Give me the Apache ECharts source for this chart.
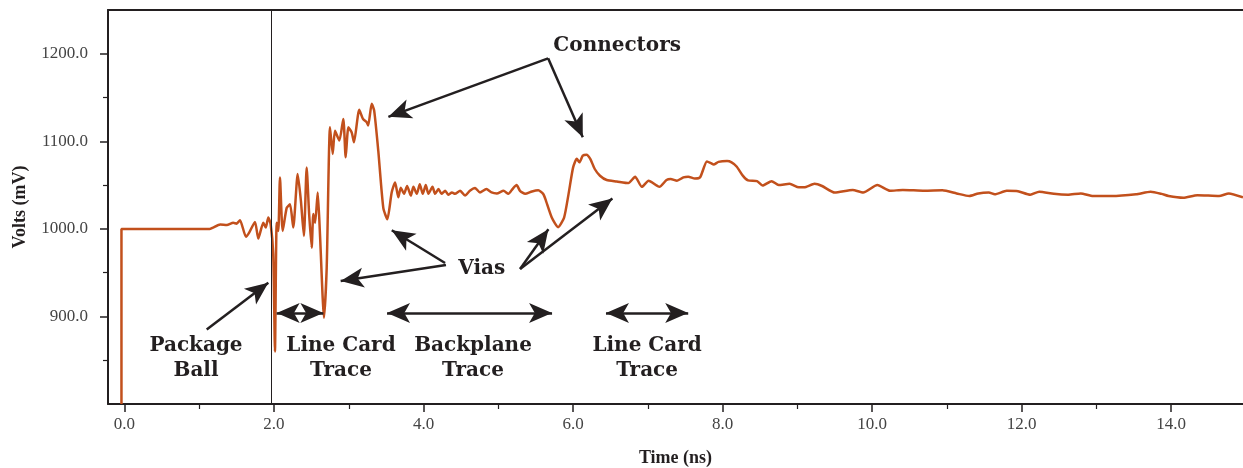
<!DOCTYPE html>
<html>
<head>
<meta charset="utf-8">
<script src="https://cdn.jsdelivr.net/npm/echarts@6/dist/echarts.min.js"></script>
<style>
  html, body { margin: 0; padding: 0; background: #ffffff; }
  #chart { width: 1243px; height: 468px; }
</style>
</head>
<body>
<div id="chart"></div>
<script>
// Step response of the channel (time in ns, voltage in mV)
const timeNs = [
  -0.04, -0.04, 1.14, 1.28, 1.37, 1.455, 1.50, 1.545, 1.625, 1.67,
  1.746, 1.79, 1.857, 1.89, 1.924, 1.956, 1.99, 2.013, 2.036, 2.058,
  2.08, 2.116, 2.17, 2.214, 2.258, 2.317, 2.36, 2.40, 2.437, 2.47,
  2.504, 2.526, 2.55, 2.585, 2.615, 2.669, 2.705, 2.749, 2.785, 2.816,
  2.874, 2.927, 2.959, 2.995, 3.04, 3.07, 3.14, 3.19, 3.24, 3.26,
  3.307, 3.34, 3.395, 3.462, 3.516, 3.574, 3.62, 3.663, 3.695, 3.74,
  3.78, 3.83, 3.865, 3.91, 3.95, 3.99, 4.03, 4.065, 4.12, 4.155,
  4.20, 4.24, 4.29, 4.33, 4.38, 4.42, 4.49, 4.555, 4.62, 4.69,
  4.755, 4.84, 4.91, 4.98, 5.07, 5.135, 5.19, 5.245, 5.29, 5.36,
  5.45, 5.535, 5.60, 5.63, 5.715, 5.80, 5.88, 5.94, 6.00, 6.05,
  6.085, 6.13, 6.18, 6.23, 6.29, 6.36, 6.45, 6.585, 6.74, 6.83,
  6.92, 7.01, 7.155, 7.25, 7.305, 7.39, 7.475, 7.54, 7.63, 7.70,
  7.79, 7.845, 7.88, 7.945, 8.06, 8.12, 8.19, 8.27, 8.34, 8.46,
  8.535, 8.655, 8.75, 8.895, 9.02, 9.09, 9.23, 9.33, 9.50, 9.74,
  9.88, 10.07, 10.24, 10.41, 10.70, 10.94, 11.13, 11.30, 11.42, 11.56,
  11.64, 11.80, 11.95, 12.115, 12.235, 12.43, 12.62, 12.79, 12.955, 13.195,
  13.53, 13.725, 13.87, 13.965, 14.16, 14.35, 14.64, 14.77, 14.96
];
const voltsMv = [
  800, 1000, 1000, 1005, 1004.5, 1007, 1006, 1010, 991, 996,
  1008, 989, 1007, 1001.5, 1013, 1005, 971, 860, 1007, 997.7,
  1058.8, 997.7, 1024, 1028, 1001.5, 1062.6, 1032, 992, 1070, 1017,
  978.6, 1017, 1007, 1041.6, 994, 898.4, 955.7, 1116, 1085.6, 1112,
  1101, 1125.6, 1081.7, 1116, 1110, 1098.9, 1136, 1125.6, 1121.8, 1118,
  1142.8, 1135, 1089, 1024, 1011, 1041.6, 1053, 1036, 1047, 1040,
  1049, 1038, 1048, 1040, 1051, 1040, 1050, 1040, 1048, 1040,
  1045.5, 1040, 1043.5, 1039, 1041.6, 1040, 1043.5, 1038, 1043.5, 1046.6,
  1041.6, 1045.5, 1041.6, 1040.4, 1043.5, 1040, 1045.5, 1050, 1043.5, 1040,
  1042.7, 1044, 1040, 1034, 1013, 1002, 1013, 1040, 1070, 1080,
  1076, 1083.6, 1084.8, 1080, 1068.4, 1060.7, 1055.8, 1054.2, 1052.3, 1059.6,
  1048, 1055, 1048, 1055.8, 1057, 1055, 1058.8, 1059.6, 1057.5, 1059,
  1077, 1075, 1073.5, 1076.5, 1077.5, 1076, 1071, 1060.8, 1055.4, 1054.6,
  1049.5, 1054.5, 1050, 1051.5, 1047.5, 1047.5, 1051.5, 1049, 1041.5, 1044.5,
  1041.5, 1050, 1043.5, 1044.5, 1043.5, 1044, 1040.5, 1037.5, 1040.5, 1041.5,
  1039.5, 1043.5, 1043, 1039, 1042.5, 1040, 1039, 1040.5, 1037.5, 1037.5,
  1039.5, 1042.5, 1040, 1037.5, 1035.5, 1038.5, 1037.5, 1040.5, 1036
];

// Axis ticks
const xMajorTicks = [0, 2, 4, 6, 8, 10, 12, 14];
const xMinorTicks = [1, 3, 5, 7, 9, 11, 13];
const yMajorTicks = [900, 1000, 1100, 1200];
const yMinorTicks = [850, 950, 1050, 1150];

// Package ball reference time
const probeTime = 1.96;

// Callout texts, anchored in data units [ns, mV]
const calloutNames = ['Connectors', 'Vias', 'Package\nBall', 'Line Card\nTrace', 'Backplane\nTrace', 'Line Card\nTrace'];
const calloutTimes = [6.59, 4.78, 0.957, 2.896, 4.662, 6.99];
const calloutVolts = [1209, 954, 851.7, 851.7, 851.7, 851.7];

// Pointer arrows: [fromTime, fromVolts, toTime, toVolts]
const pointerArrows = [
  [5.666, 1194.8, 3.53, 1128],
  [5.666, 1194.8, 6.13, 1104.6],
  [4.288, 961, 3.575, 998.5],
  [4.30, 958.8, 2.892, 940.4],
  [5.291, 954.2, 5.67, 999.7],
  [5.291, 954.2, 6.526, 1034.7],
  [1.10, 885, 1.924, 938.5]
];
// Span arrows (double headed): [startTime, endTime, volts]
const spanArrows = [
  [2.036, 2.66, 904],
  [3.512, 5.719, 904],
  [6.44, 7.54, 904]
];

const ink = '#231f20';
const traceColor = '#c2501c';
const tickFont = 'Liberation Serif';
const calloutFont = 'DejaVu Serif';
const headSize = [15, 23];
const xRange = [-0.22, 14.96];
const yRange = [800, 1250];

const chart = echarts.init(document.getElementById('chart'), null, { renderer: 'canvas' });

const arrowLines = pointerArrows.map(a => [
  { coord: [a[0], a[1]], symbol: 'none' },
  { coord: [a[2], a[3]], symbol: 'arrow', symbolSize: headSize }
]).concat(spanArrows.map(s => [
  { coord: [s[0], s[2]], symbol: 'arrow', symbolSize: headSize },
  { coord: [s[1], s[2]], symbol: 'arrow', symbolSize: headSize }
]));

const option = {
  animation: false,
  backgroundColor: '#ffffff',
  grid: { left: 108, right: 0, top: 10, bottom: 64, show: false, containLabel: false, outerBoundsMode: 'none' },
  xAxis: [
    {
      type: 'value', min: xRange[0], max: xRange[1],
      axisLine: { show: true, onZero: false, lineStyle: { color: ink, width: 2 } },
      axisTick: { show: true, customValues: xMajorTicks, length: 8, lineStyle: { color: ink, width: 1.5 } },
      axisLabel: {
        customValues: xMajorTicks, formatter: v => v.toFixed(1), margin: 12,
        fontFamily: tickFont, fontSize: 17, color: '#444'
      },
      splitLine: { show: false },
      name: 'Time (ns)', nameLocation: 'middle', nameGap: 45,
      nameTextStyle: { fontFamily: tickFont, fontWeight: 'bold', fontSize: 18, color: ink }
    },
    {
      type: 'value', min: xRange[0], max: xRange[1], position: 'bottom',
      axisLine: { show: false, onZero: false },
      axisTick: { show: true, customValues: xMinorTicks, length: 5, lineStyle: { color: ink, width: 1.2 } },
      axisLabel: { show: false },
      splitLine: { show: false }
    },
    {
      // top frame line
      type: 'value', min: xRange[0], max: xRange[1], position: 'top',
      axisLine: { show: true, onZero: false, lineStyle: { color: ink, width: 2 } },
      axisTick: { show: false },
      axisLabel: { show: false },
      splitLine: { show: false }
    }
  ],
  yAxis: [
    {
      type: 'value', min: yRange[0], max: yRange[1],
      axisLine: { show: true, onZero: false, lineStyle: { color: ink, width: 2 } },
      axisTick: { show: true, customValues: yMajorTicks, length: 8, lineStyle: { color: ink, width: 1.5 } },
      axisLabel: {
        customValues: yMajorTicks, formatter: v => v.toFixed(1), margin: 20,
        fontFamily: tickFont, fontSize: 17, color: '#444'
      },
      splitLine: { show: false },
      name: 'Volts (mV)', nameLocation: 'middle', nameGap: 79,
      nameTextStyle: { fontFamily: tickFont, fontWeight: 'bold', fontSize: 18, color: ink }
    },
    {
      type: 'value', min: yRange[0], max: yRange[1], position: 'left',
      axisLine: { show: false, onZero: false },
      axisTick: { show: true, customValues: yMinorTicks, length: 5, lineStyle: { color: ink, width: 1.2 } },
      axisLabel: { show: false },
      splitLine: { show: false }
    }
  ],
  series: [
    {
      name: 'callouts',
      type: 'scatter',
      xAxisIndex: 0, yAxisIndex: 0,
      silent: true,
      z: 1,
      symbolSize: 0,
      itemStyle: { opacity: 1 },
      data: calloutNames.map((n, i) => ({ name: n, value: [calloutTimes[i], calloutVolts[i]] })),
      label: {
        show: true, position: 'inside', formatter: '{b}', opacity: 1,
        fontFamily: calloutFont, fontWeight: 'bold', fontSize: 20, lineHeight: 25, color: ink
      },
      markLine: {
        silent: true,
        symbol: ['none', 'arrow'],
        symbolSize: headSize,
        label: { show: false },
        lineStyle: { color: ink, width: 2.5, type: 'solid', opacity: 1 },
        itemStyle: { opacity: 1 },
        emphasis: { disabled: true },
        data: arrowLines
      }
    },
    {
      name: 'probe',
      type: 'line',
      xAxisIndex: 0, yAxisIndex: 0,
      silent: true,
      z: 1,
      data: [],
      markLine: {
        silent: true,
        symbol: ['none', 'none'],
        label: { show: false },
        lineStyle: { color: ink, width: 1, type: 'solid' },
        emphasis: { disabled: true },
        data: [{ xAxis: probeTime }]
      }
    },
    {
      name: 'Volts',
      type: 'line',
      xAxisIndex: 0, yAxisIndex: 0,
      z: 3,
      showSymbol: false,
      smooth: 0.2,
      lineStyle: { color: traceColor, width: 2.5 },
      data: timeNs.map((t, i) => [t, voltsMv[i]])
    }
  ]
};

chart.setOption(option);
</script>
</body>
</html>
